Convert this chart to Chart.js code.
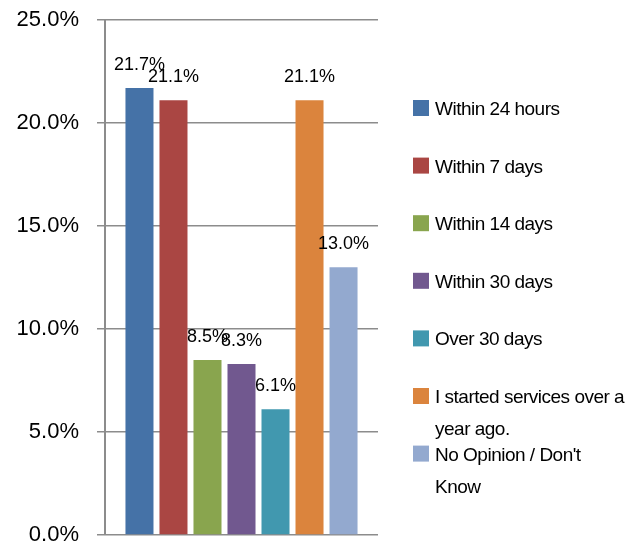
<!DOCTYPE html>
<html>
<head>
<meta charset="utf-8">
<script src="https://cdn.jsdelivr.net/npm/chart.js@4/dist/chart.umd.min.js"></script>
<style>
  body { margin: 0; background: #fff; }
  #wrap { width: 633px; height: 547px; }
</style>
</head>
<body>
<div id="wrap"><canvas id="chart" width="633" height="547"></canvas></div>
<script>
// answers, in legend order
const categories = [
  ['Within 24 hours'],
  ['Within 7 days'],
  ['Within 14 days'],
  ['Within 30 days'],
  ['Over 30 days'],
  ['I started services over a', 'year ago.'],
  ['No Opinion / Don\'t', 'Know']
];
const values = [21.7, 21.1, 8.5, 8.3, 6.1, 21.1, 13.0];
const colors = ['#4572A7', '#AA4643', '#89A54E', '#71588F', '#4198AF', '#DB843D', '#93A9CF'];
const yTicks = [0, 5, 10, 15, 20, 25];

const FONT = "'Liberation Sans', Arial, sans-serif";
const gridColor = '#8c8c8c';

// value labels above each bar
const valueLabels = {
  id: 'valueLabels',
  afterDatasetsDraw(chart) {
    const ctx = chart.ctx;
    ctx.save();
    ctx.font = '18px ' + FONT;
    ctx.fillStyle = '#000';
    ctx.textAlign = 'center';
    ctx.textBaseline = 'alphabetic';
    chart.data.datasets.forEach((ds, i) => {
      const bar = chart.getDatasetMeta(i).data[0];
      ctx.fillText(ds.data[0].toFixed(1) + '%', bar.x, bar.y - 18);
    });
    ctx.restore();
  }
};

// legend on the right, Excel style (fixed row pitch, wrapped lines)
const sideLegend = {
  id: 'sideLegend',
  afterDraw(chart) {
    const ctx = chart.ctx;
    const x = chart.chartArea.right + 35;
    const top = 108;
    const pitch = 57.6;
    ctx.save();
    ctx.font = '19px ' + FONT;
    ctx.letterSpacing = '-0.5px';
    ctx.fillStyle = '#000';
    ctx.textBaseline = 'alphabetic';
    chart.data.datasets.forEach((ds, i) => {
      const cy = top + i * pitch;
      ctx.fillStyle = ds.backgroundColor;
      ctx.fillRect(x, cy - 8, 16, 16);
      ctx.fillStyle = '#000';
      categories[i].forEach((line, j) => {
        ctx.fillText(line, x + 22, cy + 7 + j * 32);
      });
    });
    ctx.restore();
  }
};

new Chart(document.getElementById('chart'), {
  type: 'bar',
  data: {
    labels: [''],
    datasets: categories.map((c, i) => ({
      label: c.join(' '),
      data: [values[i]],
      backgroundColor: colors[i],
      categoryPercentage: 0.872,
      barPercentage: 0.824
    }))
  },
  options: {
    responsive: false,
    animation: false,
    layout: { padding: { top: 20, right: 255, bottom: 12, left: 0 } },
    plugins: {
      legend: { display: false },
      tooltip: { enabled: false }
    },
    scales: {
      x: { display: false },
      y: {
        min: 0,
        max: 25,
        afterBuildTicks(scale) { scale.ticks = yTicks.map(v => ({ value: v })); },
        ticks: {
          padding: 18,
          color: '#000',
          font: { family: FONT, size: 22 },
          callback: v => v.toFixed(1) + '%'
        },
        grid: { color: gridColor, lineWidth: 1.5, tickLength: 8 },
        border: { display: true, color: gridColor, width: 2 },
        afterFit(scale) {
          scale.width = 105;
          scale.paddingTop = 0;
          scale.paddingBottom = 0;
        }
      }
    }
  },
  plugins: [valueLabels, sideLegend]
});
</script>
</body>
</html>
